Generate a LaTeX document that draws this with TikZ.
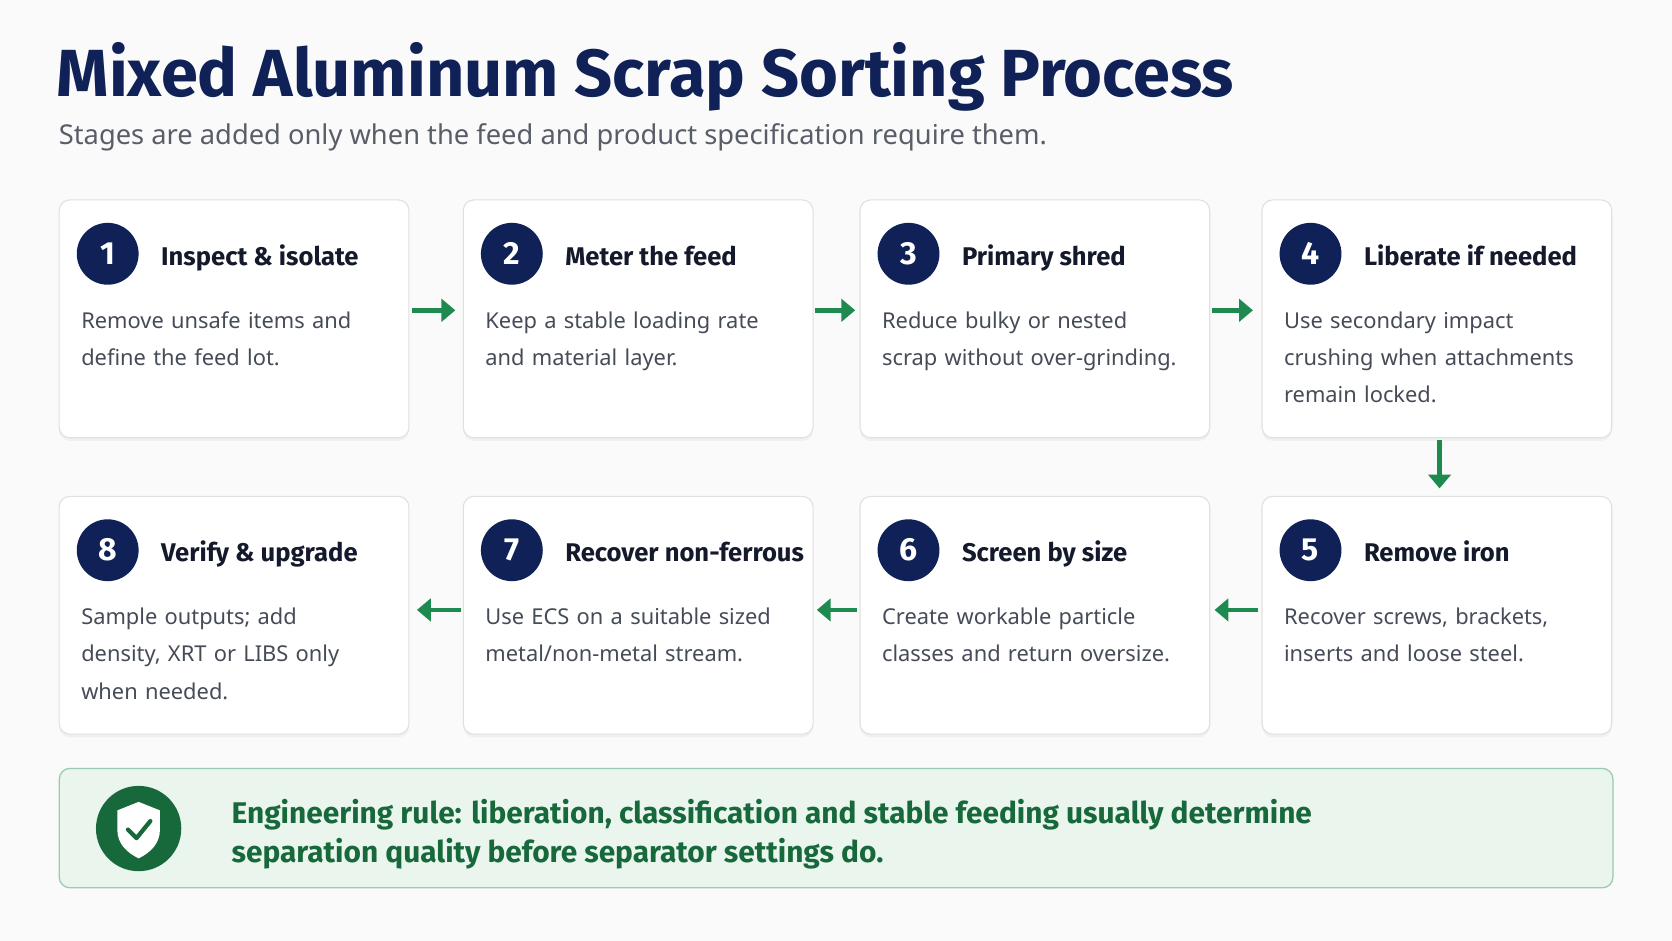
\documentclass[tikz,border=0pt]{standalone}
\usepackage{fontspec}
\usetikzlibrary{shadows,arrows.meta}
\setmainfont{Noto Sans}
\newfontfamily\headf{Fira Sans}
\definecolor{navy}{HTML}{0F2156}
\definecolor{ink}{HTML}{14192B}
\definecolor{body}{HTML}{454B57}
\definecolor{grn}{HTML}{1E8A4F}
\definecolor{dgrn}{HTML}{17693C}
\definecolor{lgrn}{HTML}{EAF5EE}
\begin{document}
\begin{tikzpicture}[x=1pt,y=-1pt,
  card/.style={draw=black!12,line width=1pt,fill=white,rounded corners=10pt,minimum width=328pt,minimum height=223pt,anchor=north west,drop shadow={opacity=0.08,shadow xshift=0pt,shadow yshift=-3pt}},
  num/.style={circle,fill=navy,minimum size=58pt,inner sep=0pt,text=white,font=\headf\bfseries\fontsize{30}{30}\selectfont},
  ttl/.style={anchor=base west,text=ink,font=\headf\bfseries\fontsize{24}{28}\selectfont,inner sep=0pt},
  txt/.style={anchor=north west,text=body,font=\fontsize{20.5}{35}\selectfont,align=left,inner sep=0pt,text width=300pt},
  arr/.style={draw=grn,line width=4.5pt,-{Triangle[length=13pt,width=21pt]}}]
\useasboundingbox (0,0) rectangle (1568,882);
\fill[black!2] (0,0) rectangle (1568,882);
\node[anchor=west,inner sep=0pt,text=navy,font=\headf\bfseries\fontsize{62.5}{62}\selectfont] (title) at (53,72) {Mixed Aluminum Scrap Sorting Process};
\node[anchor=west,inner sep=0pt,text=body!90,font=\fontsize{25.6}{24}\selectfont] (sub) at (55,129) {Stages are added only when the feed and product specification require them.};
\newcommand\stage[5]{%
  \node[card] (c#1) at (#2,#3) {};
  \node[num] (n#1) at (#2+46,#3+51) {#1};
  \node[ttl] (t#1) at (#2+96,#3+62) {#4};
  \node[txt] (b#1) at (#2+21,#3+105) {#5};
}
\stage{1}{55}{187}{Inspect \& isolate}{Remove unsafe items and\\define the feed lot.}
\stage{2}{434}{187}{Meter the feed}{Keep a stable loading rate\\and material layer.}
\stage{3}{806}{187}{Primary shred}{Reduce bulky or nested\\scrap without over-grinding.}
\stage{4}{1183}{187}{Liberate if needed}{Use secondary impact\\crushing when attachments\\remain locked.}
\stage{5}{1183}{465}{Remove iron}{Recover screws, brackets,\\inserts and loose steel.}
\stage{6}{806}{465}{Screen by size}{Create workable particle\\classes and return oversize.}
\stage{7}{434}{465}{Recover non-ferrous}{Use ECS on a suitable sized\\metal/non-metal stream.}
\stage{8}{55}{465}{Verify \& upgrade}{Sample outputs; add\\density, XRT or LIBS only\\when needed.}
\coordinate (a1) at (386,291); \coordinate (a2) at (427,291);
\draw[arr] (a1) -- (a2);
\coordinate (a3) at (764,291); \coordinate (a4) at (802,291);
\draw[arr] (a3) -- (a4);
\coordinate (a5) at (1137,291); \coordinate (a6) at (1175,291);
\draw[arr] (a5) -- (a6);
\coordinate (a7) at (1350,413); \coordinate (a8) at (1350,458);
\draw[arr] (a7) -- (a8);
\coordinate (b1) at (1180,572); \coordinate (b2) at (1139,572);
\draw[arr] (b1) -- (b2);
\coordinate (b3) at (804,572); \coordinate (b4) at (766,572);
\draw[arr] (b3) -- (b4);
\coordinate (b5) at (432,572); \coordinate (b6) at (391,572);
\draw[arr] (b5) -- (b6);
\node[draw=grn!45,line width=1.2pt,fill=lgrn,rounded corners=10pt,anchor=north west,minimum width=1457pt,minimum height=112pt] (rule) at (55,720) {};
\node[circle,fill=dgrn,minimum size=80pt,inner sep=0pt] (shield) at (130,777) {};
\fill[white] (130,752) -- (150,760) -- (150,778) .. controls (150,792) and (140,800) .. (130,805) .. controls (120,800) and (110,792) .. (110,778) -- (110,760) -- cycle;
\draw[dgrn,line width=4pt,line cap=round,line join=round] (120,778) -- (128,786) -- (141,770);
\node[anchor=north west,inner sep=0pt,text=dgrn,align=left,font=\headf\bfseries\fontsize{28}{37}\selectfont] (ruletxt) at (217,749) {Engineering rule: liberation, classification and stable feeding usually determine\\separation quality before separator settings do.};
\end{tikzpicture}
\end{document}
